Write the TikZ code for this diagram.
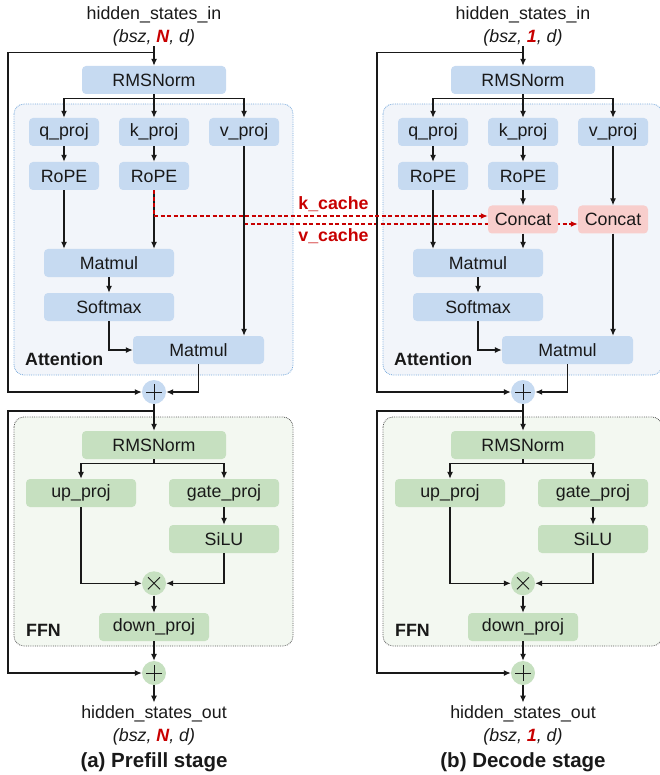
\documentclass[tikz,border=0pt]{standalone}
\usepackage{fontspec}
\setmainfont{Liberation Sans}
\usetikzlibrary{arrows.meta}
\definecolor{bluebox}{RGB}{198,218,241}
\definecolor{attnbg}{RGB}{242,245,250}
\definecolor{attnbd}{RGB}{120,170,220}
\definecolor{greenbox}{RGB}{198,224,192}
\definecolor{ffnbg}{RGB}{243,248,241}
\definecolor{ffnbd}{RGB}{90,90,90}
\definecolor{pinkbox}{RGB}{248,206,204}
\definecolor{cred}{RGB}{200,0,0}
\definecolor{ink}{RGB}{25,25,25}
\newcommand\fsn{\fontsize{17.8}{20}\selectfont}
\newcommand\fst{\fontsize{20.5}{24}\selectfont}
\pgfdeclarelayer{bg}
\pgfdeclarelayer{mid}
\pgfsetlayers{bg,mid,main}
\tikzset{
  op/.style={rectangle, rounded corners=4pt, minimum height=28pt, inner sep=0pt, font=\fsn, text=ink},
  bop/.style={op, fill=bluebox},
  gop/.style={op, fill=greenbox},
  pop/.style={op, fill=pinkbox},
  txt/.style={font=\fsn, text=ink, inner sep=0pt},
  circ/.style={circle, minimum size=24pt, inner sep=0pt},
  plusnode/.style={circ, path picture={
      \draw[ink, line width=0.9pt] ([xshift=-8pt]path picture bounding box.center) -- ([xshift=8pt]path picture bounding box.center);
      \draw[ink, line width=0.9pt] ([yshift=-8pt]path picture bounding box.center) -- ([yshift=8pt]path picture bounding box.center);}},
  timesnode/.style={circ, path picture={
      \draw[ink, line width=0.9pt] ([shift={(-6pt,-6pt)}]path picture bounding box.center) -- ([shift={(6pt,6pt)}]path picture bounding box.center);
      \draw[ink, line width=0.9pt] ([shift={(-6pt,6pt)}]path picture bounding box.center) -- ([shift={(6pt,-6pt)}]path picture bounding box.center);}},
  conn/.style={draw=ink, line width=1.2pt, -{Latex[length=7pt,width=6pt]}},
  kv/.style={draw=cred, dash pattern=on 4pt off 2.5pt, line width=1.3pt, -{Latex[length=7pt,width=6pt]}},
  attnbox/.style={draw=attnbd, fill=attnbg, densely dotted, line width=0.8pt, rounded corners=10pt},
  ffnbox/.style={draw=ffnbd, fill=ffnbg, densely dotted, line width=0.8pt, rounded corners=10pt}
}
\newcommand\layerpanel[2]{%
  \begin{pgfonlayer}{bg}
    \draw[attnbox] (14,104) rectangle (293,375);
    \draw[ffnbox] (14,417) rectangle (293,646);
  \end{pgfonlayer}
  \node[txt] (in) at (154,15) {hidden\_states\_in};
  \node[txt, font=\fsn\itshape] (ins) at (154,38) {(bsz, \textcolor{cred}{\textbf{#1}}, d)};
  \node[bop, minimum width=144pt] (rms1) at (154,80) {RMSNorm};
  \node[bop, minimum width=70pt] (q) at (64,132) {q\_proj};
  \node[bop, minimum width=70pt] (k) at (154,132) {k\_proj};
  \node[bop, minimum width=70pt] (v) at (244,132) {v\_proj};
  \node[bop, minimum width=70pt] (ropeq) at (64,176) {RoPE};
  \node[bop, minimum width=70pt] (ropek) at (154,176) {RoPE};
  \node[bop, minimum width=130pt] (mm1) at (109,263) {Matmul};
  \node[bop, minimum width=130pt] (sm) at (109,307) {Softmax};
  \node[bop, minimum width=131pt] (mm2) at (198.5,350) {Matmul};
  \node[txt, font=\fsn\bfseries, anchor=west] (attl) at (25,359) {Attention};
  \node[plusnode, fill=bluebox] (p1) at (154,392) {};
  \coordinate (j1) at (154,52.7);
  \coordinate (s1) at (8,52.7);
  \coordinate (j2) at (154,411);
  \coordinate (s2) at (8,411);
  \draw[conn] (ins.south) -- (rms1.north);
  \draw[conn] (j1) -- (s1) |- (p1.west);
  \draw[conn] (rms1.south) -- ++(0,4.3) -| (q.north);
  \draw[conn] (rms1.south) -- ++(0,4.3) -| (v.north);
  \draw[conn] (rms1.south) -- (k.north);
  \draw[conn] (q) -- (ropeq);
  \draw[conn] (k) -- (ropek);
  \draw[conn] (ropeq.south) -- (ropeq.south |- mm1.north);
  \draw[conn] (mm1) -- (sm);
  \draw[conn] (sm.south) |- (mm2.west);
  \draw[conn] (mm2.south) |- (p1.east);
  % FFN
  \node[gop, minimum width=144pt] (rms2) at (154,445) {RMSNorm};
  \node[gop, minimum width=110pt] (up) at (81,493) {up\_proj};
  \node[gop, minimum width=110pt] (gate) at (224,493) {gate\_proj};
  \node[gop, minimum width=110pt] (silu) at (224,539) {SiLU};
  \node[timesnode, fill=greenbox] (mul) at (154,583.3) {};
  \node[gop, minimum width=110pt] (down) at (154,627) {down\_proj};
  \node[txt, font=\fsn\bfseries, anchor=west] (ffnl) at (26,630) {FFN};
  \node[plusnode, fill=greenbox] (p2) at (154,673) {};
  \node[txt] (out) at (154,714) {hidden\_states\_out};
  \node[txt, font=\fsn\itshape] (outs) at (154,737) {(bsz, \textcolor{cred}{\textbf{#1}}, d)};
  \node[txt, font=\fst\bfseries] (cap) at (154,762) {#2};
  \draw[conn] (p1.south) -- (rms2.north);
  \draw[conn] (j2) -- (s2) |- (p2.west);
  \draw[conn] (rms2.south) -- ++(0,4.3) -| (up.north);
  \draw[conn] (rms2.south) -- ++(0,4.3) -| (gate.north);
  \draw[conn] (gate) -- (silu);
  \draw[conn] (up.south) |- (mul.west);
  \draw[conn] (silu.south) |- (mul.east);
  \draw[conn] (mul) -- (down);
  \draw[conn] (down) -- (p2);
  \draw[conn] (p2.south) -- ([yshift=3pt]out.north);
}
\begin{document}
\begin{tikzpicture}[x=1pt,y=-1pt]
\useasboundingbox (0,0) rectangle (659,775);
\begin{scope}[name prefix=L-]
  \layerpanel{N}{(a) Prefill stage}
  \draw[conn] (ropek.south) -- (ropek.south |- mm1.north);
  \draw[conn] (v.south) -- (v.south |- mm2.north);
\end{scope}
\begin{scope}[xshift=369pt, name prefix=R-]
  \layerpanel{1}{(b) Decode stage}
  \node[pop, minimum width=70pt] (c1) at (154,219.5) {Concat};
  \node[pop, minimum width=70pt] (c2) at (244,219.5) {Concat};
  \draw[conn] (ropek) -- (c1);
  \draw[conn] (c1.south) -- (c1.south |- mm1.north);
  \draw[conn] (v) -- (c2);
  \draw[conn] (c2.south) -- (c2.south |- mm2.north);
\end{scope}
\draw[kv] (L-ropek.south) |- ([yshift=3.5pt]R-c1.west);
\begin{pgfonlayer}{mid}
  \draw[kv] (L-v.south) |- ([yshift=-4.5pt]R-c2.west);
\end{pgfonlayer}
\node[txt, font=\fsn\bfseries, text=cred] (kcl) at (333.5,204) {k\_cache};
\node[txt, font=\fsn\bfseries, text=cred] (vcl) at (333.5,236.5) {v\_cache};
\end{tikzpicture}
\end{document}
